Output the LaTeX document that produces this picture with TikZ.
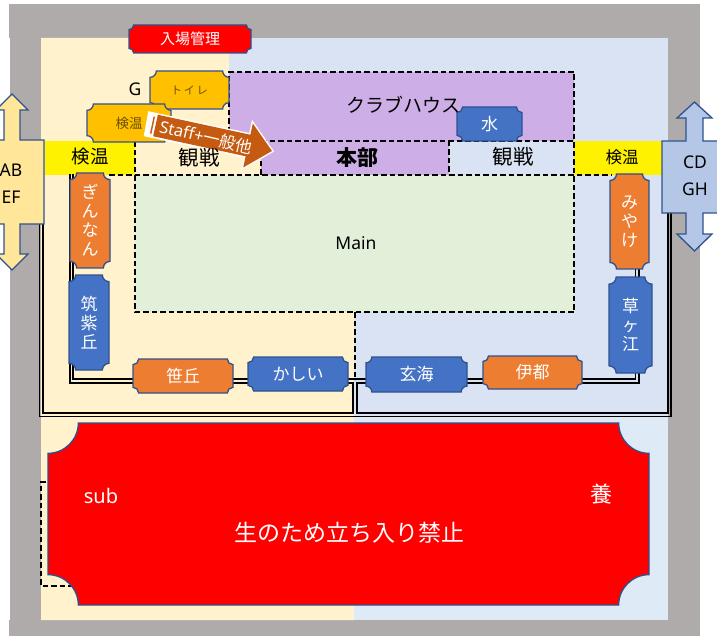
\documentclass[tikz,border=0pt]{standalone}
\usepackage{fontspec}
\setmainfont{Noto Sans}
\newfontfamily\jp{Noto Sans CJK JP}
\definecolor{framegray}{HTML}{AFABAB}
\definecolor{cream}{HTML}{FFF2CC}
\definecolor{paleblue}{HTML}{DAE3F3}
\definecolor{skyblue}{HTML}{DEEBF7}
\definecolor{purplefill}{HTML}{CDAEE6}
\definecolor{mainfill}{HTML}{E2F0D9}
\definecolor{edgeblue}{HTML}{2F528F}
\definecolor{gold}{HTML}{FFC000}
\definecolor{orangefill}{HTML}{ED7D31}
\definecolor{bluefill}{HTML}{4472C4}
\definecolor{abfill}{HTML}{FFE699}
\definecolor{cdfill}{HTML}{B4C7E7}
\definecolor{arrowfill}{HTML}{C55A11}
\definecolor{darktext}{HTML}{6B5000}
\tikzset{
  x=1pt,y=-1pt,
  dashline/.style={line width=1.6pt,dash pattern=on 5.5pt off 3pt},
  trackline/.style={line width=1.4pt,black},
  calloutbox/.style={draw=edgeblue,line width=1.3pt},
  plaquebox/.style={draw=edgeblue,line width=1.3pt},
  lbl/.style={inner sep=0pt,font=\jp,align=center},
  wlbl/.style={lbl,text=white},
}
% name, x1, y1, x2, y2, fill, font size, text colour, text
\newcommand{\plaque}[9]{%
  \pgfmathsetmacro{\pw}{#4-#2}\pgfmathsetmacro{\ph}{#5-#3}%
  \pgfmathsetmacro{\pr}{min(\pw,\ph)/6}\pgfmathsetmacro{\pk}{\pr*0.55}%
  \pgfmathsetmacro{\pl}{#7*1.12}%
  \draw[plaquebox,fill=#6]
    ({#2+\pr},#3) -- ({#4-\pr},#3)
    .. controls ({#4-\pr},{#3+\pk}) and ({#4-\pk},{#3+\pr}) .. (#4,{#3+\pr})
    -- (#4,{#5-\pr})
    .. controls ({#4-\pk},{#5-\pr}) and ({#4-\pr},{#5-\pk}) .. ({#4-\pr},#5)
    -- ({#2+\pr},#5)
    .. controls ({#2+\pr},{#5-\pk}) and ({#2+\pk},{#5-\pr}) .. (#2,{#5-\pr})
    -- (#2,{#3+\pr})
    .. controls ({#2+\pk},{#3+\pr}) and ({#2+\pr},{#3+\pk}) .. ({#2+\pr},#3) -- cycle;
  \node[lbl,text=#8,font=\jp\fontsize{#7}{\pl}\selectfont] (#1) at ({(#2+#4)/2},{(#3+#5)/2}) {#9};%
}
\begin{document}
\begin{tikzpicture}
\useasboundingbox (0,0) rectangle (717,636);
\fill[white] (0,0) rectangle (717,636);
% frame
\fill[framegray] (9,4) rectangle (700,38);
\fill[framegray] (10,38) rectangle (41,620);
\fill[framegray] (9,620) rectangle (700,636);
\fill[framegray] (668,38) rectangle (700,620);
% grounds
\fill[paleblue] (229,38) rectangle (668,417);
\fill[skyblue] (354,417) rectangle (668,620);
\fill[cream] (41,38) -- (229,38) -- (229,141) -- (261,141) -- (261,175) -- (135,175) -- (135,312) -- (354,312) -- (354,620) -- (41,620) -- cycle;
\fill[purplefill] (229,72) rectangle (574,141);
\fill[purplefill] (261,141) rectangle (449,175);
\fill[mainfill] (135,175) rectangle (574,312);
\fill[yellow] (45,141) rectangle (135,175);
\fill[yellow] (574,141) rectangle (662,175);
% tracks
\draw[trackline] (43,190) -- (43,413) -- (353,413) -- (353,383) -- (70,383) -- (70,174);
\draw[trackline] (39.5,190) -- (39.5,416.5) -- (671,416.5) -- (671,205);
\draw[trackline] (73,174) -- (73,379) -- (635.5,379) -- (635.5,260);
\draw[trackline] (639,260) -- (639,383) -- (357,383) -- (357,413) -- (668,413) -- (668,205);
% dashed outlines
\draw[dashline] (229,141) -- (229,72) -- (574,72) -- (574,312) -- (135,312) -- (135,141);
\draw[dashline] (261,175) -- (261,141) -- (574,141);
\draw[dashline] (449,141) -- (449,175);
\draw[dashline] (109,175) -- (612,175);
\draw[dashline] (355,312) -- (355,380);
\draw[dashline] (46,482) -- (41,482) -- (41,586) -- (72,586);
% callouts
\begin{scope}
\clip (0,0) rectangle (717,636);
\draw[calloutbox,fill=abfill] (-30,140) -- (4,140) -- (4,110) -- (-4,110) -- (12,94) -- (28,110) -- (20,110) -- (20,140) -- (44,140) -- (44,224) -- (20,224) -- (20,254) -- (28,254) -- (12,270) -- (-4,254) -- (4,254) -- (4,224) -- (-30,224) -- cycle;
\draw[calloutbox,fill=cdfill] (662,141) -- (686,141) -- (686,118) -- (677,118) -- (694.5,102) -- (712,118) -- (703,118) -- (703,141) -- (730,141) -- (730,213) -- (703,213) -- (703,234) -- (712,234) -- (694.5,251) -- (677,234) -- (686,234) -- (686,213) -- (662,213) -- cycle;
\end{scope}
\node[inner sep=0pt,align=center,font=\fontsize{17.5}{26.5}\selectfont] (abef) at (11,183.5) {AB\\EF};
\node[inner sep=0pt,align=center,font=\fontsize{17.5}{26.5}\selectfont] (cdgh) at (695,176) {CD\\GH};
% plaques
\plaque{gate}{129}{25}{251}{53}{red}{15}{white}{入場管理}
\plaque{toilet}{150}{71}{229}{109}{gold}{11}{darktext}{ト\,イ\,レ}
\plaque{kenon}{87}{104}{171}{142}{gold}{13.5}{darktext}{検温}
\plaque{mizu}{457}{107}{522}{141}{bluefill}{17}{white}{水}
\plaque{ginnan}{70}{173}{110}{268}{orangefill}{17}{white}{ぎ\\ん\\な\\ん}
\plaque{chikushi}{69}{275}{109}{370}{bluefill}{17}{white}{筑\\紫\\丘}
\plaque{sasaoka}{133}{359}{233}{393}{orangefill}{17}{white}{笹丘}
\plaque{kashii}{248}{357}{348}{391}{bluefill}{17}{white}{かしい}
\plaque{genkai}{366}{357}{467}{392}{bluefill}{17}{white}{玄海}
\plaque{ito}{483}{356}{582}{389}{orangefill}{17}{white}{伊都}
\plaque{kusagae}{609}{277}{652}{373}{bluefill}{17}{white}{草\\ヶ\\江}
\plaque{miyake}{610}{174}{649}{269}{orangefill}{17}{white}{み\\や\\け}
\plaque{subfield}{48}{423}{649}{605}{red}{23}{white}{}
\node[wlbl,font=\jp\fontsize{23}{26}\selectfont] (ban) at (349,533) {生のため立ち入り禁止};
% striped arrow
\draw[white,line width=3pt,fill=white,miter limit=10] (149.5,113) -- (250.35,134.75) -- (252.8,123.5) -- (272,151) -- (243.2,167.5) -- (245.65,156.25) -- (145.5,135) -- cycle;
\fill[arrowfill] (157.85,114.75) -- (250.35,134.75) -- (252.8,123.5) -- (272,151) -- (243.2,167.5) -- (245.65,156.25) -- (153.15,136.25) -- cycle;
\fill[arrowfill] (153.6,116.5) -- (155,116.8) -- (151.4,133.8) -- (150,133.5) -- cycle;
% labels
\node[lbl,font=\jp\fontsize{19}{22}\selectfont] (club) at (403,105) {クラブハウス};
\node[lbl,font=\jp\bfseries\fontsize{21}{24}\selectfont] (hq) at (357,158) {本部};
\node[lbl,font=\jp\fontsize{20.5}{24}\selectfont] (seeleft) at (199,158) {観戦};
\node[lbl,font=\jp\fontsize{20.5}{24}\selectfont] (seeright) at (513,157) {観戦};
\node[lbl,font=\jp\fontsize{18.5}{22}\selectfont] (templeft) at (90,157) {検温};
\node[lbl,font=\jp\fontsize{16.5}{20}\selectfont] (tempright) at (622,157) {検温};
\node[inner sep=0pt,font=\fontsize{17.5}{20}\selectfont] (g) at (135,89) {G};
\node[inner sep=0pt,font=\fontsize{17.5}{20}\selectfont] (mainlbl) at (356,243) {Main};
\node[inner sep=0pt,text=white,font=\fontsize{20}{22}\selectfont] (sublbl) at (101,496) {sub};
\node[wlbl,font=\jp\fontsize{22}{26}\selectfont] (yo) at (601,494) {養};
\node[inner sep=0pt,text=white,rotate=-13,font=\fontsize{16.5}{18}\selectfont] (stafflbl) at (206,137) {Staff+{\jp 一般他}};
\end{tikzpicture}
\end{document}
